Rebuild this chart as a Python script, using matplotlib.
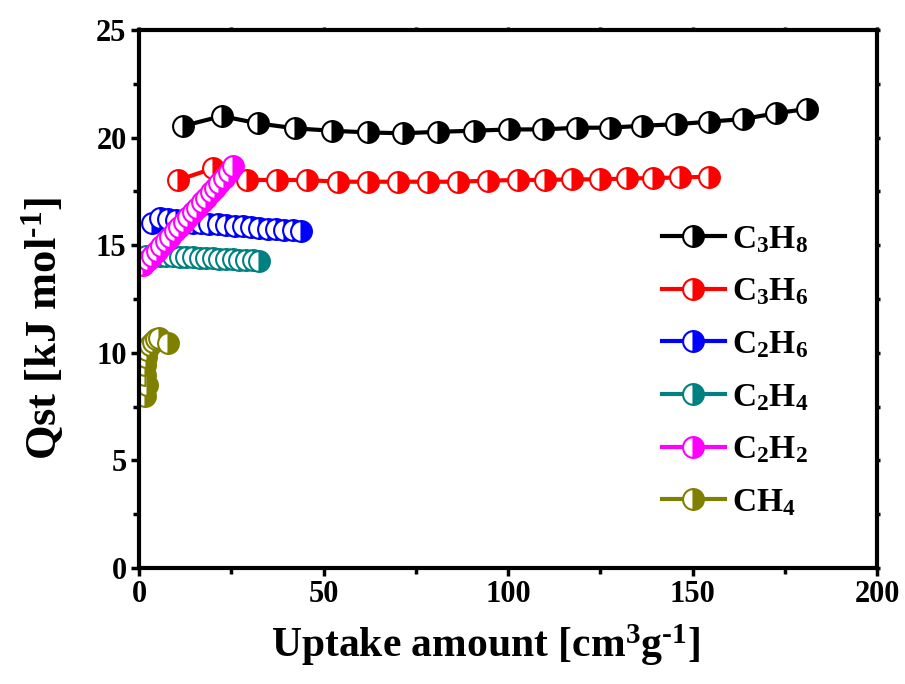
import matplotlib
matplotlib.use("Agg")
import matplotlib.pyplot as plt
from matplotlib.ticker import MultipleLocator

plt.rcParams['font.family'] = ['Liberation Serif', 'DejaVu Serif']
plt.rcParams['font.weight'] = 'bold'
plt.rcParams['mathtext.fontset'] = 'custom'
plt.rcParams['mathtext.rm'] = 'Liberation Serif:bold'
plt.rcParams['mathtext.bf'] = 'Liberation Serif:bold'
plt.rcParams['mathtext.it'] = 'Liberation Serif:bold'

# ---- data ----
c3h8_x = [12.0, 22.4, 32.3, 42.3, 52.2, 62.0, 71.6, 81.1, 90.9, 100.4,
          109.6, 118.8, 127.6, 136.2, 145.4, 154.6, 163.6, 172.6, 180.9]
c3h8_y = [20.54, 21.0, 20.66, 20.43, 20.32, 20.24, 20.2, 20.27, 20.32, 20.38,
          20.38, 20.46, 20.46, 20.55, 20.62, 20.74, 20.86, 21.13, 21.33]

c3h6_x = [10.7, 20.1, 29.2, 37.3, 45.4, 54.0, 62.1, 70.3, 78.4, 86.5, 94.7,
          102.8, 110.0, 117.3, 124.9, 132.2, 139.4, 146.6, 154.6]
c3h6_y = [18.03, 18.57, 18.03, 18.03, 18.03, 17.95, 17.95, 17.95, 17.95, 17.95,
          18.0, 18.03, 18.03, 18.06, 18.06, 18.1, 18.12, 18.15, 18.18]

c2h6_x = [3.4, 5.6, 7.9, 10.1, 12.4, 14.6, 16.9, 19.1, 21.4, 23.6, 25.9,
          28.1, 30.4, 32.6, 34.9, 37.1, 39.4, 41.6, 43.9]
c2h6_y = [16.05, 16.25, 16.2, 16.15, 16.1, 16.05, 16.02, 16.0, 15.97, 15.93,
          15.9, 15.87, 15.84, 15.8, 15.77, 15.75, 15.72, 15.7, 15.67]

c2h4_x = [2.0, 3.8, 5.6, 7.4, 9.2, 11.0, 12.8, 14.6, 16.4, 18.2, 20.0,
          21.8, 23.6, 25.4, 27.2, 29.0, 30.8, 32.4]
c2h4_y = [14.5, 14.55, 14.5, 14.5, 14.48, 14.46, 14.45, 14.44, 14.42, 14.41,
          14.4, 14.38, 14.36, 14.35, 14.33, 14.31, 14.29, 14.26]

c2h2_x = [1.2, 2.4, 3.6, 4.8, 6.0, 7.2, 8.5, 9.7, 10.9, 12.1, 13.3, 14.5,
          15.7, 17.0, 18.2, 19.4, 20.6, 21.8, 23.0, 24.3, 25.6]
c2h2_y = [14.1, 14.3, 14.5, 14.75, 14.95, 15.2, 15.4, 15.65, 15.85, 16.1,
          16.3, 16.55, 16.75, 17.0, 17.2, 17.45, 17.65, 17.9, 18.1, 18.4, 18.7]

ch4_x = [1.6, 2.1, 1.6, 1.6, 1.9, 2.3, 3.0, 3.8, 4.6, 5.5, 7.9]
ch4_y = [8.0, 8.5, 8.97, 9.43, 9.82, 10.13, 10.36, 10.52, 10.63, 10.67, 10.45]

series = [
    (c3h8_x, c3h8_y, 'black', r'C$_\mathbf{3}$H$_\mathbf{8}$'),
    (c3h6_x, c3h6_y, '#ff0000', r'C$_\mathbf{3}$H$_\mathbf{6}$'),
    (c2h6_x, c2h6_y, '#0000ff', r'C$_\mathbf{2}$H$_\mathbf{6}$'),
    (c2h4_x, c2h4_y, '#008080', r'C$_\mathbf{2}$H$_\mathbf{4}$'),
    (c2h2_x, c2h2_y, '#ff00ff', r'C$_\mathbf{2}$H$_\mathbf{2}$'),
    (ch4_x, ch4_y, '#808000', r'CH$_\mathbf{4}$'),
]

fig = plt.figure(figsize=(9.05, 6.84), dpi=100)
ax = fig.add_axes([139/905, 1-568/684, (877-139)/905, (568-30)/684])

for x, y, c, lab in series:
    ax.plot(x, y, '-', color=c, lw=3, marker='o', markersize=15,
            fillstyle='right', markerfacecolor=c, markerfacecoloralt='white',
            markeredgecolor=c, markeredgewidth=1.5, label=lab)

ax.set_xlim(0, 200)
ax.set_ylim(0, 25)
ax.xaxis.set_major_locator(MultipleLocator(50))
ax.xaxis.set_minor_locator(MultipleLocator(25))
ax.yaxis.set_major_locator(MultipleLocator(5))
ax.yaxis.set_minor_locator(MultipleLocator(2.5))

for s in ax.spines.values():
    s.set_linewidth(3)

ax.tick_params(which='major', direction='out', length=6, width=2.5,
               labelsize=22, pad=3)
ax.tick_params(which='minor', direction='out', length=4, width=2.5)
ax.tick_params(which='both', top=True, right=True)
for t in ax.xaxis.get_major_ticks() + ax.xaxis.get_minor_ticks():
    t.tick2line.set_markersize(2)
for t in ax.yaxis.get_major_ticks() + ax.yaxis.get_minor_ticks():
    t.tick2line.set_markersize(2)

for lab in ax.get_xticklabels() + ax.get_yticklabels():
    lab.set_fontweight('bold')

ax.set_xlabel(r'Uptake amount [cm$^\mathbf{3}$g$^{\text{-}\mathbf{1}}$]',
              fontsize=30, fontweight='bold')
ax.set_ylabel(r'Qst [kJ mol$^{\text{-}\mathbf{1}}$]', fontsize=32,
              fontweight='bold')
ax.xaxis.set_label_coords(0.47, -0.143)
ax.yaxis.set_label_coords(-0.131, 0.446)
ax.xaxis.label.set_va('center')
ax.yaxis.label.set_va('center')

leg = ax.legend(loc='upper left', bbox_to_anchor=(0.69, 0.6645), frameon=False,
                fontsize=24, handlelength=1.9, handletextpad=0.2,
                labelspacing=0.65, borderaxespad=0)

fig.savefig('out.png', dpi=100)
